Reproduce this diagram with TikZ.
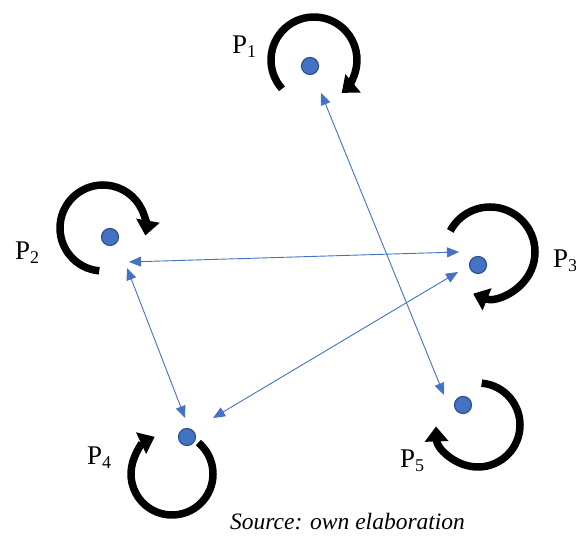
\documentclass[tikz,border=0pt]{standalone}
\usepackage{fontspec}
\setmainfont{Liberation Serif}
\newfontfamily\timesfont{Liberation Serif}
\usetikzlibrary{arrows.meta}
\definecolor{dotblue}{HTML}{4472C4}
\definecolor{dotedge}{HTML}{2F528F}
\newcommand\psub[1]{P\raisebox{-4pt}{\fontsize{18}{18}\selectfont #1}}

\begin{document}
\begin{tikzpicture}[x=1pt,y=1pt,
    dot/.style={circle,fill=dotblue,draw=dotedge,line width=1.2pt,minimum size=17pt,inner sep=0pt},
    turn/.style={line width=7.5pt,-{Triangle[length=15pt,width=23pt]}},
    link/.style={dotblue,line width=0.9pt,{Triangle[length=12pt,width=10pt]}-{Triangle[length=12pt,width=10pt]}},
    lab/.style={anchor=base west,inner sep=0pt,font=\timesfont\fontsize{27}{30}\selectfont}]
   \useasboundingbox (0,0) rectangle (576,537);
   % rotation arrows round the points
   \foreach \cx/\cy/\r/\a/\b in {314/477/43/222/-50, 103/309/43/265/-10, 490/285/45/152/-112,
                                 172/63/41/50/-245, 478/112/42/85/-178}
      { \draw[turn] (\cx,\cy) ++(\a:\r) arc[start angle=\a, end angle=\b, radius=\r]; }
   % points
   \foreach \n/\x/\y in {1/310/471, 2/110/300, 3/478/272, 4/187/100, 5/463/132}
      { \node[dot] (p\n) at (\x,\y) {}; }
   \node[lab] (l1) at (232,483) {\psub{1}};
   \node[lab] (l2) at (15,277)  {\psub{2}};
   \node[lab] (l3) at (553,269) {\psub{3}};
   \node[lab] (l4) at (87,72)   {\psub{4}};
   \node[lab] (l5) at (400,69)  {\psub{5}};
   % ends of the links
   \coordinate (c15) at (321,444);
   \coordinate (c51) at (444,142);
   \coordinate (c23) at (129,275);
   \coordinate (c32) at (459,285);
   \coordinate (c24) at (127,269);
   \coordinate (c42) at (185,119);
   \coordinate (c34) at (458,265);
   \coordinate (c43) at (213,119);
   \draw[link] (c15) -- (c51);
   \draw[link] (c23) -- (c32);
   \draw[link] (c24) -- (c42);
   \draw[link] (c34) -- (c43);
   \node[anchor=base west,inner sep=0pt,font=\timesfont\itshape\fontsize{23.5}{26}\selectfont] (src) at (230,7) {Source: own elaboration};
\end{tikzpicture}
\end{document}
